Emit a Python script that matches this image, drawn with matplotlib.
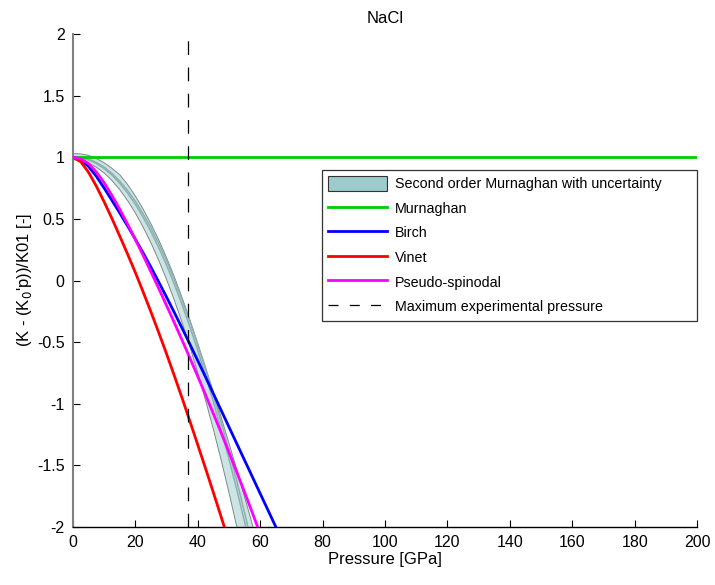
"""Normalised bulk-modulus deviation for NaCl under several equations of state."""

import matplotlib
matplotlib.use("Agg")
import matplotlib.pyplot as plt
from matplotlib.lines import Line2D
from matplotlib.patches import Patch

plt.rcParams["font.family"] = ["Liberation Sans", "DejaVu Sans"]

# ---------- data (pressure in GPa, normalised modulus) ----------------------

P_MAX_EXP = 37.0

murn_p = [0, 200]
murn_y = [1.0, 1.0]

birch_p = [0, 2.5, 5, 7.5, 10, 12.5, 15, 17.5, 20, 22.5, 25, 27.5, 30, 32.5, 35,
           37.5, 40, 42.5, 45, 47.5, 50, 52.5, 55, 57.5, 60, 62.5, 65, 67.5]
birch_y = [1.0, 0.98, 0.925, 0.845, 0.75, 0.65, 0.548, 0.443, 0.335, 0.223, 0.108,
           -0.013, -0.135, -0.26, -0.388, -0.518, -0.65, -0.783, -0.918, -1.053,
           -1.188, -1.323, -1.458, -1.593, -1.728, -1.863, -1.998, -2.133]

vinet_p = [0, 2.5, 5, 7.5, 10, 12.5, 15, 17.5, 20, 22.5, 25, 27.5, 30, 32.5, 35,
           37.5, 40, 42.5, 45, 47.5, 50]
vinet_y = [1.0, 0.963, 0.878, 0.765, 0.638, 0.503, 0.36, 0.215, 0.065, -0.093,
           -0.255, -0.423, -0.595, -0.773, -0.955, -1.143, -1.333, -1.525, -1.72,
           -1.918, -2.118]

spin_p = [0, 2.5, 5, 7.5, 10, 12.5, 15, 17.5, 20, 22.5, 25, 27.5, 30, 32.5, 35,
          37.5, 40, 42.5, 45, 47.5, 50, 52.5, 55, 57.5, 60]
spin_y = [1.0, 0.988, 0.948, 0.88, 0.793, 0.69, 0.578, 0.458, 0.333, 0.203, 0.07,
          -0.065, -0.203, -0.343, -0.485, -0.63, -0.778, -0.928, -1.08, -1.235,
          -1.393, -1.553, -1.718, -1.885, -2.055]

# second order Murnaghan: uncertainty envelope and inner curves
band_p = [0, 2.5, 5, 7.5, 10, 12.5, 15, 17.5, 20, 22.5, 25, 27.5, 30, 32.5, 35,
          37.5, 40, 42.5, 45, 47.5, 50, 52.5, 55, 57.5, 60]
band_hi = [1.03, 1.027, 1.015, 0.99, 0.955, 0.91, 0.858, 0.779, 0.685, 0.579,
           0.46, 0.329, 0.185, 0.029, -0.14, -0.321, -0.51, -0.705, -0.905,
           -1.11, -1.32, -1.535, -1.755, -1.98, -2.21]
band_lo = [0.98, 0.973, 0.953, 0.919, 0.872, 0.811, 0.737, 0.649, 0.548, 0.433,
           0.305, 0.163, 0.008, -0.161, -0.343, -0.539, -0.748, -0.971, -1.207,
           -1.457, -1.72, -1.997, -2.287, -2.59, -2.9]
inner_a = [1.0, 0.995, 0.978, 0.949, 0.908, 0.855, 0.789, 0.71, 0.618, 0.513,
           0.396, 0.266, 0.124, -0.031, -0.198, -0.377, -0.568, -0.771, -0.985,
           -1.211, -1.448, -1.697, -1.958, -2.23, -2.51]
inner_b = [1.005, 1.0, 0.985, 0.958, 0.92, 0.869, 0.806, 0.731, 0.643, 0.541,
           0.427, 0.3, 0.16, 0.008, -0.157, -0.334, -0.523, -0.72, -0.929,
           -1.15, -1.383, -1.627, -1.884, -2.152, -2.43]

# ---------- plot -----------------------------------------------------------

fig = plt.figure(figsize=(7.15, 5.85), dpi=100)
ax = fig.add_axes([0.102, 0.099, 0.873, 0.843])

band_face = "#9dcaca"
band_edge = "#7a8a8a"

ax.fill_between(band_p, band_lo, band_hi, facecolor=band_face, alpha=0.5,
                edgecolor="none", zorder=2)
ax.plot(band_p, band_hi, color=band_edge, lw=0.7, zorder=3)
ax.plot(band_p, band_lo, color=band_edge, lw=0.7, zorder=3)
ax.plot(band_p, inner_a, color="#8fb0b0", lw=1.1, zorder=3)
ax.plot(band_p, inner_b, color="#8fb0b0", lw=1.1, zorder=3)

ax.plot(murn_p, murn_y, color="#00cc00", lw=2.0, zorder=4)
ax.plot(birch_p, birch_y, color="#0000ff", lw=2.0, zorder=4)
ax.plot(vinet_p, vinet_y, color="#ff0000", lw=2.0, zorder=4)
ax.plot(spin_p, spin_y, color="#ff00ff", lw=2.0, zorder=5)
ax.plot([P_MAX_EXP, P_MAX_EXP], [-2, 2], color="black", lw=0.9,
        linestyle=(0, (11, 10)), zorder=6)

ax.set_xlim(0, 200)
ax.set_ylim(-2, 2)
ax.set_xticks(range(0, 201, 20))
ax.set_yticks([-2, -1.5, -1, -0.5, 0, 0.5, 1, 1.5, 2])
ax.set_yticklabels(["-2", "-1.5", "-1", "-0.5", "0", "0.5", "1", "1.5", "2"])

for side in ("top", "right"):
    ax.spines[side].set_visible(False)
ax.spines["left"].set_color("#808080")
ax.spines["left"].set_linewidth(1.5)
ax.spines["bottom"].set_color("black")
ax.spines["bottom"].set_linewidth(1.0)
ax.tick_params(direction="in", length=5, width=0.8, labelsize=11.5, pad=6)

ax.set_xlabel("Pressure [GPa]", fontsize=12, labelpad=1)
ax.set_ylabel("(K - (K$_0$'p))/K01 [-]", fontsize=12, labelpad=2)
ax.set_title("NaCl", fontsize=12, pad=8)

handles = [
    Patch(facecolor=band_face, edgecolor="#333333", lw=0.8,
          label="Second order Murnaghan with uncertainty"),
    Line2D([0], [0], color="#00cc00", lw=2, label="Murnaghan"),
    Line2D([0], [0], color="#0000ff", lw=2, label="Birch"),
    Line2D([0], [0], color="#ff0000", lw=2, label="Vinet"),
    Line2D([0], [0], color="#ff00ff", lw=2, label="Pseudo-spinodal"),
    Line2D([0], [0], color="black", lw=0.9, linestyle=(0, (8, 9)),
           label="Maximum experimental pressure"),
]
leg = ax.legend(handles=handles, loc="upper left",
                bbox_to_anchor=(0.399, 0.725, 0.601, 0), mode="expand",
                fontsize=10.3, frameon=True, fancybox=False, handlelength=4.1,
                handleheight=1.2, labelspacing=0.66, borderpad=0.45,
                handletextpad=0.55, borderaxespad=0)
leg.get_frame().set_edgecolor("black")
leg.get_frame().set_linewidth(0.9)

fig.savefig("out.png", dpi=100, facecolor="white")
